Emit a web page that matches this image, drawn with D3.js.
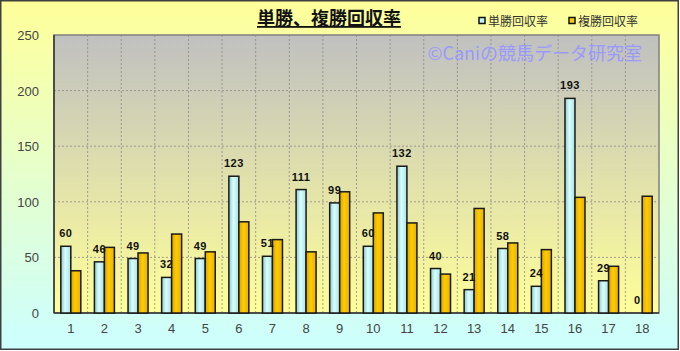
<!DOCTYPE html>
<html>
<head>
<meta charset="utf-8">
<script src="https://cdn.jsdelivr.net/npm/d3@7"></script>
<style>
  body { margin: 0; background: #fff; }
  text { font-family: "Liberation Sans", Arial, sans-serif; }
  .jp { font-family: "Noto Sans CJK JP", sans-serif; }
</style>
</head>
<body>
<div class="chart"></div>
<script>
// --- Data ---
const categories = ["1","2","3","4","5","6","7","8","9","10","11","12","13","14","15","16","17","18"];
const tanshoValues = [60, 46, 49, 32, 49, 123, 51, 111, 99, 60, 132, 40, 21, 58, 24, 193, 29, 0];
const fukushoValues = [38, 59, 54, 71, 55, 82, 66, 55, 109, 90, 81, 35, 94, 63, 57, 104, 42, 105];
const yTicks = [0, 50, 100, 150, 200, 250];
const seriesNames = ["単勝回収率", "複勝回収率"];

const width = 680;
const height = 351;
const margin = { top: 35, right: 21, bottom: 38, left: 54 };

const svg = d3.select(".chart")
  .append("svg")
  .attr("width", width)
  .attr("height", height);

const defs = svg.append("defs");

// outer background gradient
const bg = defs.append("linearGradient").attr("id", "bgGrad")
  .attr("x1", 0).attr("y1", 0).attr("x2", 0).attr("y2", 1);
bg.append("stop").attr("offset", "0%").attr("stop-color", "#FFFF99");
bg.append("stop").attr("offset", "100%").attr("stop-color", "#CCFFFF");

// plot area gradient
const pg = defs.append("linearGradient").attr("id", "plotGrad")
  .attr("x1", 0).attr("y1", 0).attr("x2", 0).attr("y2", 1);
pg.append("stop").attr("offset", "0%").attr("stop-color", "#C0C0C0");
pg.append("stop").attr("offset", "100%").attr("stop-color", "#FFFF99");

// bar gradients (horizontal)
const cg = defs.append("linearGradient").attr("id", "cyanGrad")
  .attr("x1", 0).attr("y1", 0).attr("x2", 1).attr("y2", 0);
cg.append("stop").attr("offset", "0%").attr("stop-color", "#8FC8CC");
cg.append("stop").attr("offset", "45%").attr("stop-color", "#D8FFFF");
cg.append("stop").attr("offset", "100%").attr("stop-color", "#A8E0E4");

const gg = defs.append("linearGradient").attr("id", "goldGrad")
  .attr("x1", 0).attr("y1", 0).attr("x2", 1).attr("y2", 0);
gg.append("stop").attr("offset", "0%").attr("stop-color", "#D9A400");
gg.append("stop").attr("offset", "45%").attr("stop-color", "#FFCC00");
gg.append("stop").attr("offset", "100%").attr("stop-color", "#E6B000");

svg.append("rect")
  .attr("x", 0.75).attr("y", 0.75)
  .attr("width", width - 2.5).attr("height", height - 2.5)
  .attr("fill", "url(#bgGrad)")
  .attr("stroke", "#404040")
  .attr("stroke-width", 1.5);

// --- Scales ---
const x = d3.scaleBand()
  .domain(categories)
  .range([margin.left, width - margin.right]);

const y = d3.scaleLinear()
  .domain([0, 250])
  .range([height - margin.bottom, margin.top]);

const barW = 10;

// plot area
svg.append("rect")
  .attr("x", x.range()[0]).attr("y", y(250))
  .attr("width", x.range()[1] - x.range()[0])
  .attr("height", y(0) - y(250))
  .attr("fill", "url(#plotGrad)")
  .attr("stroke", "#808080")
  .attr("stroke-width", 1.5);

// gridlines
svg.append("g")
  .selectAll("line")
  .data(yTicks.slice(1, -1))
  .join("line")
  .attr("x1", x.range()[0]).attr("x2", x.range()[1])
  .attr("y1", d => y(d)).attr("y2", d => y(d))
  .attr("stroke", "#8a8a8a")
  .attr("stroke-opacity", 0.8)
  .attr("stroke-dasharray", "2,2");

svg.append("g")
  .selectAll("line")
  .data(categories.slice(1))
  .join("line")
  .attr("x1", d => x(d)).attr("x2", d => x(d))
  .attr("y1", y(250)).attr("y2", y(0))
  .attr("stroke", "#8a8a8a")
  .attr("stroke-opacity", 0.8)
  .attr("stroke-dasharray", "2,2");

// watermark
svg.append("text")
  .attr("class", "jp")
  .attr("x", 642)
  .attr("y", 60)
  .attr("text-anchor", "end")
  .attr("font-size", 18)
  .attr("fill", "#9999FF")
  .text("©Caniの競馬データ研究室");

// axes lines
svg.append("line")
  .attr("x1", x.range()[0]).attr("x2", x.range()[0])
  .attr("y1", y(250)).attr("y2", y(0))
  .attr("stroke", "#333").attr("stroke-width", 1.5);
svg.append("line")
  .attr("x1", x.range()[0]).attr("x2", x.range()[1])
  .attr("y1", y(0)).attr("y2", y(0))
  .attr("stroke", "#333").attr("stroke-width", 1.5);

// y tick labels
svg.append("g")
  .selectAll("text")
  .data(yTicks)
  .join("text")
  .attr("x", 39)
  .attr("y", d => y(d) + 5)
  .attr("text-anchor", "end")
  .attr("font-size", 13)
  .attr("fill", "#444")
  .text(d => d);

// x tick labels
svg.append("g")
  .selectAll("text")
  .data(categories)
  .join("text")
  .attr("x", d => x(d) + x.bandwidth() / 2)
  .attr("y", 333)
  .attr("text-anchor", "middle")
  .attr("font-size", 13)
  .attr("fill", "#444")
  .text(d => d);

// --- Bars ---
const groups = categories.map((c, i) => ({ cat: c, t: tanshoValues[i], f: fukushoValues[i] }));

svg.append("g")
  .selectAll("rect")
  .data(groups)
  .join("rect")
  .attr("x", d => x(d.cat) + x.bandwidth() / 2 - barW)
  .attr("y", d => y(d.t))
  .attr("width", barW)
  .attr("height", d => y(0) - y(d.t))
  .attr("fill", "url(#cyanGrad)")
  .attr("stroke", "#1a1a1a")
  .attr("stroke-width", 1.5);

svg.append("g")
  .selectAll("rect")
  .data(groups)
  .join("rect")
  .attr("x", d => x(d.cat) + x.bandwidth() / 2)
  .attr("y", d => y(d.f))
  .attr("width", barW)
  .attr("height", d => y(0) - y(d.f))
  .attr("fill", "url(#goldGrad)")
  .attr("stroke", "#1a1a1a")
  .attr("stroke-width", 1.5);

// value labels for tansho
svg.append("g")
  .selectAll("text")
  .data(groups)
  .join("text")
  .attr("x", d => x(d.cat) + x.bandwidth() / 2 - barW / 2)
  .attr("y", d => y(d.t) - 9)
  .attr("text-anchor", "middle")
  .attr("font-size", 11)
  .attr("font-weight", "bold")
  .attr("letter-spacing", 0.5)
  .attr("fill", "#111")
  .text(d => d.t);

// --- Title ---
svg.append("text")
  .attr("class", "jp")
  .attr("x", 329)
  .attr("y", 25)
  .attr("text-anchor", "middle")
  .attr("font-size", 18)
  .attr("font-weight", "bold")
  .attr("fill", "#111")
  .attr("text-decoration", "underline")
  .text("単勝、複勝回収率");

// --- Legend ---
const legendX = [479, 569];
const legendFill = ["#BFF5F8", "#FFCC00"];
const legend = svg.append("g")
  .selectAll("g")
  .data(seriesNames)
  .join("g")
  .attr("transform", (d, i) => `translate(${legendX[i]}, 21)`);

legend.append("rect")
  .attr("x", 0).attr("y", -3.5)
  .attr("width", 6).attr("height", 6)
  .attr("fill", (d, i) => legendFill[i])
  .attr("stroke", "#111")
  .attr("stroke-width", 1.5);

legend.append("text")
  .attr("class", "jp")
  .attr("x", 9)
  .attr("y", 4.5)
  .attr("font-size", 12)
  .attr("fill", "#333")
  .text(d => d);
</script>
</body>
</html>
